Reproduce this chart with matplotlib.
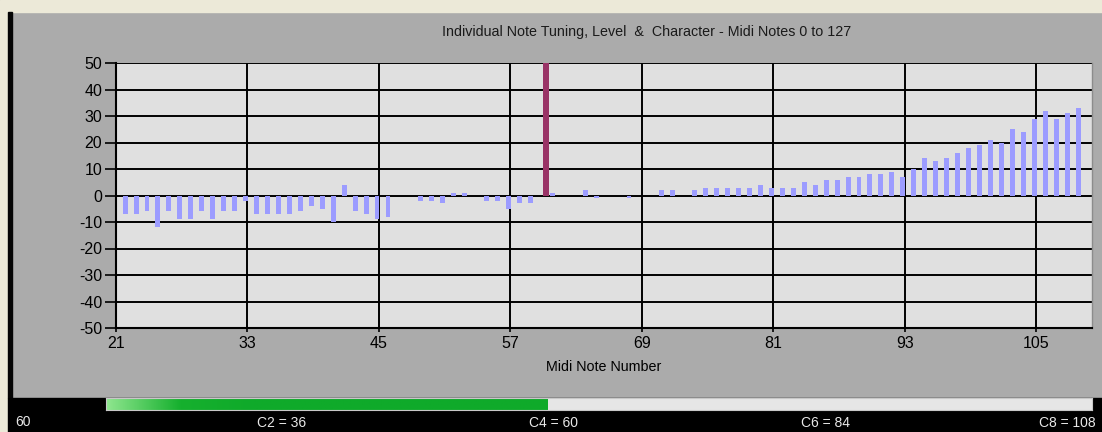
import numpy as np
import matplotlib.pyplot as plt
from matplotlib.patches import Rectangle
from matplotlib.colors import LinearSegmentedColormap

plt.rcParams['font.family'] = ['Liberation Sans', 'DejaVu Sans']
plt.rcParams['axes.unicode_minus'] = False

# Dados - afinação por nota (notas MIDI 21 a 108)
notas = np.arange(21, 109)
afinacao = [-7, -7, -6, -12, -6, -9, -9, -6, -9, -6,
            -6, -2, -7, -7, -7, -7, -6, -4, -5, -10,
            4, -6, -7, -9, -8, 0, 0, -2, -2, -3,
            1, 1, 0, -2, -2, -5, -3, -3, 0, 1,
            0, 0, 2, -1, 0, 0, -1, 0, 0, 2,
            2, 0, 2, 3, 3, 3, 3, 3, 4, 3,
            3, 3, 5, 4, 6, 6, 7, 7, 8, 8,
            9, 7, 10, 14, 13, 14, 16, 18, 19, 21,
            20, 25, 24, 29, 32, 29, 31, 33]
nota_atual = 60
marcador_topo = 50
ticks_x = [21, 33, 45, 57, 69, 81, 93, 105]
ticks_y = [-50, -40, -30, -20, -10, 0, 10, 20, 30, 40, 50]
notas_oitava = [36, 60, 84, 108]
rotulos_oitava = ['C2 = 36', 'C4 = 60', 'C6 = 84', 'C8 = 108']

# Estilo
COR_FUNDO = '#ABABAB'
COR_PLOT = '#E0E0E0'
COR_BARRA = '#9C9CFF'
COR_MARCADOR = '#993366'
DESLOC_BARRA = 0.83
DESLOC_MARCADOR = 0.24

W, H = 1102, 432
fig = plt.figure(figsize=(W / 100, H / 100), dpi=100, facecolor=COR_FUNDO)

def px_rect(x0, y0, x1, y1, cor):
    # Retângulo em pixels (origem no topo)
    fig.patches.append(Rectangle((x0 / W, 1 - y1 / H), (x1 - x0) / W, (y1 - y0) / H,
                                 transform=fig.transFigure, color=cor, zorder=-5))

# Moldura da janela
px_rect(0, 0, W, 12, '#ECE9D8')
px_rect(0, 12, 8, H, '#ECE9D8')
px_rect(8, 12, 12, 398, '#050505')
px_rect(8, 398, W, H, '#000000')

# Gráfico principal
ax = fig.add_axes([116 / W, 1 - 328 / H, (1092 - 116) / W, (328 - 63) / H])
ax.set_facecolor(COR_PLOT)
ax.bar(notas + DESLOC_BARRA, afinacao, width=0.45, color=COR_BARRA, zorder=3)
ax.bar(nota_atual + DESLOC_MARCADOR, marcador_topo, width=0.52, color=COR_MARCADOR, zorder=4)

ax.set_xlim(21, 110.1)
ax.set_ylim(-50, 50)
ax.set_xticks(ticks_x)
ax.set_yticks(ticks_y)
ax.grid(True, color='black', linewidth=1.4, zorder=1)
ax.tick_params(axis='y', length=8, width=1.2, labelsize=11.5, pad=2)
ax.tick_params(axis='x', length=3, width=1.2, labelsize=11.5, pad=3)
ax.spines['top'].set_visible(False)
ax.spines['right'].set_color('#8C8C8C')
ax.spines['right'].set_linewidth(1.0)
for lado in ['left', 'bottom']:
    ax.spines[lado].set_linewidth(1.5)
ax.set_xlabel('Midi Note Number', fontsize=10.3, labelpad=6)
fig.text(647 / W, 1 - 32 / H, 'Individual Note Tuning, Level  &  Character - Midi Notes 0 to 127',
         ha='center', va='center', fontsize=10.3, color='#1A1A1A')

# Barra de progresso
axp = fig.add_axes([106 / W, 1 - 410 / H, (1092 - 106) / W, 12 / H])
axp.set_facecolor('#E6E6E6')
verde = LinearSegmentedColormap.from_list('verde', ['#8FE68F', '#16B02E', '#0FAA2A'])
grad = np.linspace(0, 1, 256).reshape(1, -1)
grad = np.clip(grad * 3, 0, 1)
axp.imshow(grad, cmap=verde, aspect='auto', extent=[notas[0], nota_atual, 0, 1], zorder=2)
axp.set_xlim(notas[0], notas[-1])
axp.set_ylim(0, 1)
axp.set_xticks([])
axp.set_yticks([])
for s in axp.spines.values():
    s.set_color('#C8C8C8')
    s.set_linewidth(0.8)

# Rótulos das oitavas
for n, rot in zip(notas_oitava, rotulos_oitava):
    ha = 'right' if n == notas[-1] else 'center'
    xx = n + 0.3 if n == notas[-1] else n + 0.5
    axp.text(xx, -1.1, rot, ha=ha, va='center', fontsize=10, color='#E8E8E8', clip_on=False)
fig.text(23 / W, 1 - 422 / H, str(nota_atual), ha='center', va='center', fontsize=10, color='#E8E8E8')

plt.savefig('out.png', dpi=100, facecolor=fig.get_facecolor())
